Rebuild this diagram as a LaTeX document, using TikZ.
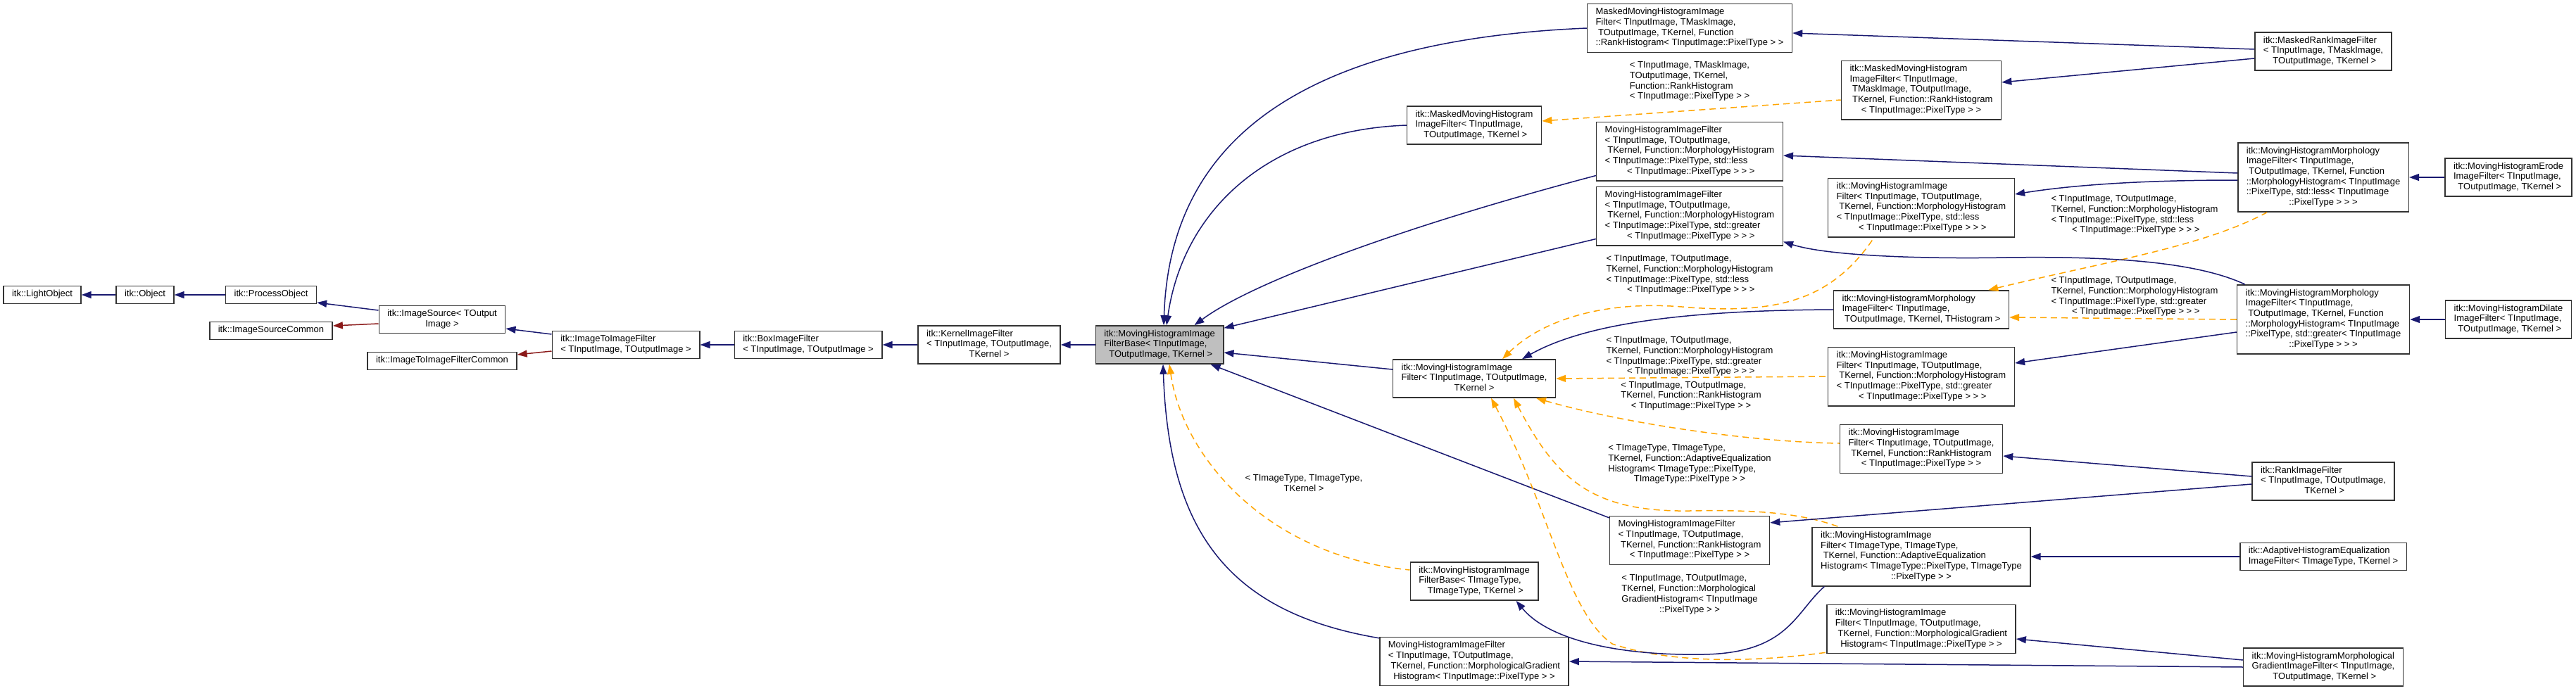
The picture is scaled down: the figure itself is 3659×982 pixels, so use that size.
\documentclass[tikz,border=0pt]{standalone}
\usepackage{fontspec}
\newfontfamily\dxfont{Liberation Sans}
\usetikzlibrary{arrows.meta}
\definecolor{dxNavy}{HTML}{191970}
\definecolor{dxOrange}{HTML}{FFA500}
\definecolor{dxRed}{HTML}{8B1A1A}
\definecolor{dxGrey}{HTML}{BFBFBF}
\newcommand{\dxsize}{\dxfont\fontsize{13}{14.7}\selectfont}
\newcommand{\dxlines}[2]{\begin{tabular}{@{}l@{}}#1\\\multicolumn{1}{@{}c@{}}{#2}\end{tabular}}
\tikzset{
  cls/.style     = {draw=black!80, line width=1.5pt, fill=white, inner xsep=12pt,
                    inner ysep=5pt, font=\dxsize, execute at begin node={\strut}},
  focus/.style   = {cls, fill=dxGrey},
  elbl/.style    = {inner sep=0pt, font=\dxsize},
  inherit/.style = {<-, >={Triangle[length=14pt, width=10pt]}, dxNavy, line width=1.5pt},
  tmpl/.style    = {inherit, dxOrange, dash pattern=on 9pt off 6pt},
  usage/.style   = {inherit, dxRed},
}

\begin{document}
\begin{tikzpicture}[x=1pt,y=-1pt]
  \useasboundingbox (0,0) rectangle (3659,982);
  % base classes
  \node[cls] (lightobj) at (60,419) {itk::LightObject};
  \node[cls] (object) at (206,419) {itk::Object};
  \node[cls] (procobj) at (385,419) {itk::ProcessObject};
  \node[cls] (imgsrc) at (628,454) {\dxlines{itk::ImageSource< TOutput}{Image >}};
  \node[cls] (imgsrccommon) at (385,470) {itk::ImageSourceCommon};
  \node[cls] (img2img) at (889,490) {\dxlines{itk::ImageToImageFilter}{< TInputImage, TOutputImage >}};
  \node[cls] (img2imgcommon) at (628,513) {itk::ImageToImageFilterCommon};
  \node[cls] (boxflt) at (1148,490) {\dxlines{itk::BoxImageFilter}{< TInputImage, TOutputImage >}};
  \node[cls] (kernelflt) at (1405,490) {\dxlines{itk::KernelImageFilter\\< TInputImage, TOutputImage,}{TKernel >}};
  \node[focus] (base) at (1647,490) {\dxlines{itk::MovingHistogramImage\\FilterBase< TInputImage,}{\ TOutputImage, TKernel >}};

  % middle column
  \node[cls] (maskedmovrank) at (2400,40) {\dxlines{MaskedMovingHistogramImage\\Filter< TInputImage, TMaskImage,\\\ TOutputImage, TKernel, Function}{::RankHistogram< TInputImage::PixelType > >}};
  \node[cls] (itkmaskedmov) at (2094,178) {\dxlines{itk::MaskedMovingHistogram\\ImageFilter< TInputImage,}{\ TOutputImage, TKernel >}};
  \node[cls] (movless) at (2400,215) {\dxlines{MovingHistogramImageFilter\\< TInputImage, TOutputImage,\\\ TKernel, Function::MorphologyHistogram\\< TInputImage::PixelType, std::less}{\ < TInputImage::PixelType > > >}};
  \node[cls] (movgreater) at (2400,307) {\dxlines{MovingHistogramImageFilter\\< TInputImage, TOutputImage,\\\ TKernel, Function::MorphologyHistogram\\< TInputImage::PixelType, std::greater}{\ < TInputImage::PixelType > > >}};
  \node[cls] (itkmovflt) at (2094,538) {\dxlines{itk::MovingHistogramImage\\Filter< TInputImage, TOutputImage,}{TKernel >}};
  \node[cls] (movrank) at (2400,768) {\dxlines{MovingHistogramImageFilter\\< TInputImage, TOutputImage,\\\ TKernel, Function::RankHistogram}{< TInputImage::PixelType > >}};
  \node[cls] (itkbaseimg) at (2094,826) {\dxlines{itk::MovingHistogramImage\\FilterBase< TImageType,}{\ TImageType, TKernel >}};
  \node[cls] (movgrad) at (2094,940) {\dxlines{MovingHistogramImageFilter\\< TInputImage, TOutputImage,\\\ TKernel, Function::MorphologicalGradient}{Histogram< TInputImage::PixelType > >}};

  % itk column
  \node[cls] (itkmaskedmovrank) at (2729,128) {\dxlines{itk::MaskedMovingHistogram\\ImageFilter< TInputImage,\\\ TMaskImage, TOutputImage,\\\ TKernel, Function::RankHistogram}{< TInputImage::PixelType > >}};
  \node[cls] (itkmovless) at (2729,295) {\dxlines{itk::MovingHistogramImage\\Filter< TInputImage, TOutputImage,\\\ TKernel, Function::MorphologyHistogram\\< TInputImage::PixelType, std::less}{\ < TInputImage::PixelType > > >}};
  \node[cls] (itkmorph) at (2729,440) {\dxlines{itk::MovingHistogramMorphology\\ImageFilter< TInputImage,}{\ TOutputImage, TKernel, THistogram >}};
  \node[cls] (itkmovgreater) at (2729,535) {\dxlines{itk::MovingHistogramImage\\Filter< TInputImage, TOutputImage,\\\ TKernel, Function::MorphologyHistogram\\< TInputImage::PixelType, std::greater}{\ < TInputImage::PixelType > > >}};
  \node[cls] (itkmovrank) at (2729,638) {\dxlines{itk::MovingHistogramImage\\Filter< TInputImage, TOutputImage,\\\ TKernel, Function::RankHistogram}{< TInputImage::PixelType > >}};
  \node[cls] (itkmovadapt) at (2729,791) {\dxlines{itk::MovingHistogramImage\\Filter< TImageType, TImageType,\\\ TKernel, Function::AdaptiveEqualization\\Histogram< TImageType::PixelType, TImageType}{::PixelType > >}};
  \node[cls] (itkmovgrad) at (2729,894) {\dxlines{itk::MovingHistogramImage\\Filter< TInputImage, TOutputImage,\\\ TKernel, Function::MorphologicalGradient}{Histogram< TInputImage::PixelType > >}};

  % leaf classes
  \node[cls] (maskedrankflt) at (3300,73) {\dxlines{itk::MaskedRankImageFilter\\< TInputImage, TMaskImage,}{\ TOutputImage, TKernel >}};
  \node[cls] (morphless) at (3300,252) {\dxlines{itk::MovingHistogramMorphology\\ImageFilter< TInputImage,\\\ TOutputImage, TKernel, Function\\::MorphologyHistogram< TInputImage\\::PixelType, std::less< TInputImage}{::PixelType > > >}};
  \node[cls] (morphgreater) at (3300,454) {\dxlines{itk::MovingHistogramMorphology\\ImageFilter< TInputImage,\\\ TOutputImage, TKernel, Function\\::MorphologyHistogram< TInputImage\\::PixelType, std::greater< TInputImage}{::PixelType > > >}};
  \node[cls] (erodeflt) at (3563,252) {\dxlines{itk::MovingHistogramErode\\ImageFilter< TInputImage,}{\ TOutputImage, TKernel >}};
  \node[cls] (dilateflt) at (3563,454) {\dxlines{itk::MovingHistogramDilate\\ImageFilter< TInputImage,}{\ TOutputImage, TKernel >}};
  \node[cls] (rankflt) at (3300,684) {\dxlines{itk::RankImageFilter\\< TInputImage, TOutputImage,}{\ TKernel >}};
  \node[cls] (adapteqflt) at (3300,791) {\dxlines{itk::AdaptiveHistogramEqualization}{ImageFilter< TImageType, TKernel >}};
  \node[cls] (morphgradflt) at (3300,948) {\dxlines{itk::MovingHistogramMorphological\\GradientImageFilter< TInputImage,}{\ TOutputImage, TKernel >}};

  % edge labels
  \node[elbl] (lblmasked) at (2400,116) {\dxlines{< TInputImage, TMaskImage,\\TOutputImage, TKernel,\\Function::RankHistogram}{< TInputImage::PixelType > >}};
  \node[elbl] (lblmorphless) at (3032,306) {\dxlines{< TInputImage, TOutputImage,\\TKernel, Function::MorphologyHistogram\\< TInputImage::PixelType, std::less}{\ < TInputImage::PixelType > > >}};
  \node[elbl] (lblmorphgreater) at (3032,422) {\dxlines{< TInputImage, TOutputImage,\\TKernel, Function::MorphologyHistogram\\< TInputImage::PixelType, std::greater}{\ < TInputImage::PixelType > > >}};
  \node[elbl] (lblless) at (2400,391) {\dxlines{< TInputImage, TOutputImage,\\TKernel, Function::MorphologyHistogram\\< TInputImage::PixelType, std::less}{\ < TInputImage::PixelType > > >}};
  \node[elbl] (lblgreater) at (2400,507) {\dxlines{< TInputImage, TOutputImage,\\TKernel, Function::MorphologyHistogram\\< TInputImage::PixelType, std::greater}{\ < TInputImage::PixelType > > >}};
  \node[elbl] (lblrank) at (2402,563) {\dxlines{< TInputImage, TOutputImage,\\TKernel, Function::RankHistogram}{< TInputImage::PixelType > >}};
  \node[elbl] (lbladapt) at (2400,660) {\dxlines{< TImageType, TImageType,\\TKernel, Function::AdaptiveEqualization\\Histogram< TImageType::PixelType,}{TImageType::PixelType > >}};
  \node[elbl] (lblgrad) at (2400,845) {\dxlines{< TInputImage, TOutputImage,\\TKernel, Function::Morphological\\GradientHistogram< TInputImage}{::PixelType > >}};
  \node[elbl] (lblimgtype) at (1852,688) {\dxlines{< TImageType, TImageType,}{TKernel >}};

  % left chain
  \draw[inherit] (lightobj) -- (object);
  \draw[inherit] (object) -- (procobj);
  \draw[inherit] ([yshift=-11pt]procobj.east) -- ([yshift=13pt]imgsrc.west);
  \draw[usage] ([yshift=7pt]imgsrccommon.east) -- ([yshift=-6pt]imgsrc.west);
  \draw[inherit] ([yshift=-13pt]imgsrc.east) -- ([yshift=15pt]img2img.west);
  \draw[usage] ([yshift=9pt]img2imgcommon.east) -- ([yshift=-9pt]img2img.west);
  \draw[inherit] (img2img) -- (boxflt);
  \draw[inherit] (boxflt) -- (kernelflt);
  \draw[inherit] (kernelflt) -- (base);

  % into the base filter
  \draw[inherit] ([xshift=6pt]base.north) .. controls (1660,250) and (1780,60) .. (maskedmovrank.west);
  \draw[inherit] ([xshift=10pt]base.north) .. controls (1680,300) and (1800,185) .. (itkmaskedmov.west);
  \draw[inherit] ([xshift=-42pt]base.north east) .. controls (1780,400) and (2000,320) .. ([yshift=8pt]movless.south west);
  \draw[inherit] ([yshift=-4pt]base.north east) -- ([yshift=10pt]movgreater.south west);
  \draw[inherit] ([yshift=-11pt]base.east) -- ([yshift=13pt]itkmovflt.west);
  \draw[inherit] ([xshift=-19pt]base.south east) -- ([yshift=-3pt]movrank.north west);
  \draw[inherit] ([xshift=5pt]base.south) .. controls (1660,750) and (1740,870) .. ([yshift=-2pt]movgrad.north west);
  \draw[tmpl] ([xshift=14pt]base.south) .. controls (1680,650) and (1800,790) .. ([yshift=16pt]itkbaseimg.west);

  % into itk::MovingHistogramImageFilter
  \draw[tmpl] ([xshift=40pt]itkmovflt.north) .. controls (2190,455) and (2280,425) .. (2400,437)
    .. controls (2520,445) and (2600,430) .. ([xshift=-67pt]itkmovless.south);
  \draw[inherit] ([xshift=68pt]itkmovflt.north) .. controls (2260,455) and (2420,441) .. (itkmorph.west);
  \draw[tmpl] (itkmovflt.east) -- (itkmovgreater.west);
  \draw[tmpl] ([xshift=88pt]itkmovflt.south) .. controls (2300,600) and (2480,628) .. ([yshift=8pt]itkmovrank.west);
  \draw[tmpl] ([xshift=56pt]itkmovflt.south) .. controls (2210,680) and (2260,728) .. (2400,726)
    .. controls (2500,724) and (2560,730) .. ([xshift=38pt]itkmovadapt.north west);
  \draw[tmpl] ([xshift=24pt]itkmovflt.south) .. controls (2200,720) and (2225,870) .. (2290,915)
    .. controls (2380,945) and (2500,940) .. ([yshift=2pt]itkmovgrad.south west);
  \draw[inherit] ([xshift=-32pt]itkbaseimg.south east) .. controls (2200,910) and (2300,932) .. (2420,930)
    .. controls (2540,928) and (2550,870) .. ([xshift=18pt]itkmovadapt.south west);

  % right side
  \draw[inherit] ([yshift=-7pt]maskedmovrank.east) -- ([yshift=3pt]maskedrankflt.west);
  \draw[inherit] ([yshift=11pt]itkmaskedmovrank.east) -- ([yshift=-10pt]maskedrankflt.west);
  \draw[tmpl] ([yshift=6pt]itkmaskedmov.east) -- ([yshift=-14pt]itkmaskedmovrank.west);
  \draw[inherit] ([yshift=-6pt]movless.east) -- ([yshift=6pt]morphless.west);
  \draw[inherit] ([yshift=19pt]itkmovless.east) .. controls (2950,262) and (3050,256) .. ([yshift=-4pt]morphless.west);
  \draw[tmpl] ([xshift=-30pt]itkmorph.north east) .. controls (3000,370) and (3130,350) .. ([xshift=42pt]morphless.south west);
  \draw[tmpl] ([yshift=-11pt]itkmorph.east) -- (morphgreater.west);
  \draw[inherit] ([yshift=19pt]itkmovgreater.east) -- ([yshift=-18pt]morphgreater.west);
  \draw[inherit] ([yshift=6pt]movgreater.south east) .. controls (2600,365) and (2750,368) .. (2850,366)
    .. controls (3000,364) and (3120,372) .. ([xshift=12pt]morphgreater.north west);
  \draw[inherit] (morphless) -- (erodeflt);
  \draw[inherit] (morphgreater) -- (dilateflt);
  \draw[inherit] ([yshift=-10pt]itkmovrank.east) -- ([yshift=7pt]rankflt.west);
  \draw[inherit] ([yshift=-10pt]movrank.north east) -- ([yshift=-4pt]rankflt.west);
  \draw[inherit] (itkmovadapt) -- (adapteqflt);
  \draw[inherit] ([yshift=-14pt]itkmovgrad.east) -- ([yshift=10pt]morphgradflt.west);
  \draw[inherit] (movgrad.east) -- (morphgradflt.west);
\end{tikzpicture}
\end{document}
